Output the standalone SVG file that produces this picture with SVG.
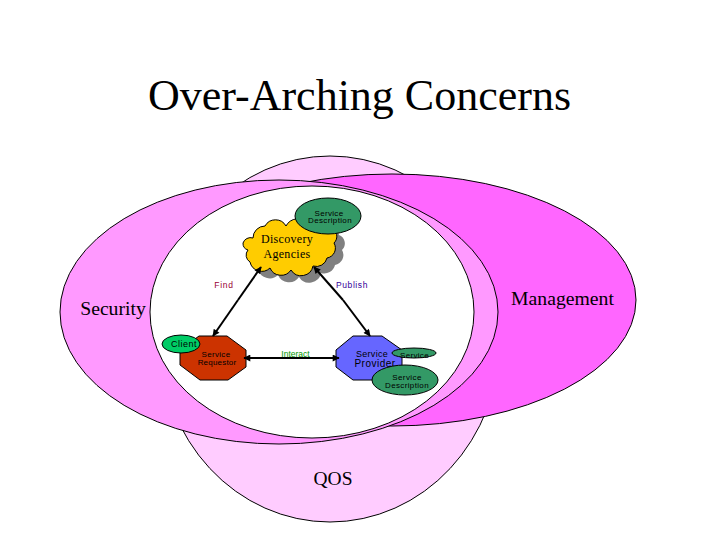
<svg xmlns="http://www.w3.org/2000/svg" width="720" height="540" viewBox="0 0 720 540">
<defs>
<marker id="ah" viewBox="0 0 10 10" refX="9" refY="5" markerWidth="4.500" markerHeight="3.500" orient="auto-start-reverse" markerUnits="strokeWidth"><path d="M0 0L10 5L0 10Z" fill="#000"/></marker>
<path id="cloud" d="M253 238A12 12 0 0 1 265 226A12 12 0 0 1 286 226A13 13 0 0 1 308 224A12 12 0 0 1 331 228A9 9 0 0 1 334 243A10 10 0 0 1 327 258A11 11 0 0 1 313 266A12 12 0 0 1 291 270A12 12 0 0 1 270 268A12 12 0 0 1 250 262A8 8 0 0 1 248 250A7 7 0 0 1 243 243A8 8 0 0 1 253 238Z"/>
</defs>
<style>
.e{stroke:#000;stroke-width:1}
.t{font-family:"Liberation Serif",serif;fill:#000}
.s{font-family:"Liberation Sans",sans-serif;fill:#000}
.c{stroke:#000;stroke-width:2;fill:none}
</style>
<rect width="720" height="540" fill="#fff"/>
<text class="t" x="359.500" y="110" font-size="44" text-anchor="middle">Over-Arching Concerns</text>
<g id="qos"><ellipse class="e" cx="330" cy="339" rx="170" ry="183" fill="#ffccff"/><text class="t" x="333" y="485" font-size="19.500" text-anchor="middle">QOS</text></g>
<g id="management"><ellipse class="e" cx="392" cy="300" rx="244" ry="126" fill="#ff66ff"/><text class="t" x="562.500" y="305" font-size="19.700" text-anchor="middle">Management</text></g>
<g id="security"><ellipse class="e" cx="279" cy="312" rx="219" ry="132" fill="#ff99ff"/><text class="t" x="113" y="315" font-size="19.700" text-anchor="middle">Security</text></g>
<ellipse id="center" class="e" cx="312" cy="312" rx="162" ry="126" fill="#fff"/>
<g id="discovery-agencies">
<use href="#cloud" x="8" y="7" fill="#808080"/>
<use href="#cloud" fill="#ffcc00" stroke="#000"/>
<text class="t" x="287" y="243" font-size="12" text-anchor="middle" letter-spacing="0.300">Discovery</text>
<text class="t" x="287" y="258" font-size="12" text-anchor="middle" letter-spacing="0.300">Agencies</text>
</g>
<g id="description-top"><ellipse class="e" cx="328" cy="216" rx="33" ry="18" fill="#339966"/>
<text class="s" x="329" y="215.500" font-size="8" text-anchor="middle" letter-spacing="0.300">Service</text><text class="s" x="330" y="223" font-size="8" text-anchor="middle" letter-spacing="0.350">Description</text></g>
<g id="requestor"><polygon class="e" points="199,336 227,336 246,350 246,367 228,380 200,380 180,365 180,350" fill="#cc3300"/>
<text class="s" x="216" y="357" font-size="8" text-anchor="middle" letter-spacing="0.300">Service</text><text class="s" x="217" y="365" font-size="8" text-anchor="middle" letter-spacing="0.200">Requestor</text></g>
<g id="client"><ellipse class="e" cx="181" cy="344" rx="19" ry="9" fill="#00cc66"/><text class="s" x="184" y="347" font-size="9" text-anchor="middle" letter-spacing="0.500">Client</text></g>
<g id="provider"><polygon class="e" points="353,336 382,336 402,350 402,367 383,380 353,380 336,367 336,350" fill="#6666ff"/>
<text class="s" x="372" y="357" font-size="9" text-anchor="middle" letter-spacing="0.300">Service</text><text class="s" x="375" y="367" font-size="10" text-anchor="middle" letter-spacing="0.500">Provider</text></g>
<g id="service"><ellipse class="e" cx="414" cy="353" rx="22" ry="5" fill="#339966"/><text class="s" x="414.500" y="358" font-size="8" text-anchor="middle" letter-spacing="0.300">Service</text></g>
<g id="description-bottom"><ellipse class="e" cx="405" cy="380" rx="33" ry="15" fill="#339966"/>
<text class="s" x="407" y="380" font-size="8" text-anchor="middle" letter-spacing="0.400">Service</text><text class="s" x="407" y="387.500" font-size="8" text-anchor="middle" letter-spacing="0.350">Description</text></g>
<g id="connectors">
<line class="c" x1="238" y1="300" x2="261" y2="267" marker-end="url(#ah)"/>
<line class="c" x1="238" y1="300" x2="213" y2="336" marker-end="url(#ah)"/>
<line class="c" x1="343" y1="300" x2="314" y2="267" marker-end="url(#ah)"/>
<line class="c" x1="343" y1="300" x2="370" y2="336" marker-end="url(#ah)"/>
<line class="c" x1="244" y1="358" x2="339" y2="358" marker-start="url(#ah)" marker-end="url(#ah)"/>
</g>
<text class="s" x="295.500" y="357" font-size="8.500" style="fill:#009900" text-anchor="middle">Interact</text>
<text class="s" x="224" y="288" font-size="8.500" style="fill:#990033" text-anchor="middle" letter-spacing="0.700">Find</text>
<text class="s" x="352" y="288" font-size="8.500" style="fill:#330099" text-anchor="middle" letter-spacing="0.600">Publish</text>
</svg>
